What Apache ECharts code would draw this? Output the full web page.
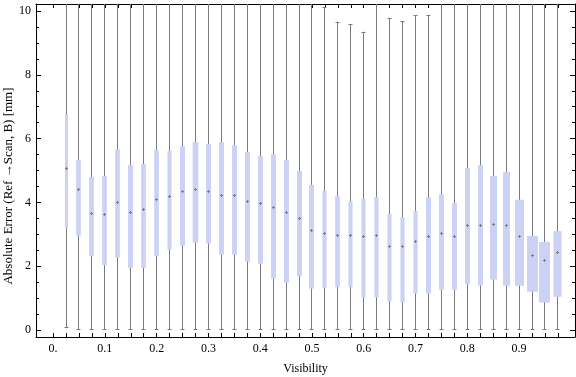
<!DOCTYPE html>
<html>
<head>
<meta charset="utf-8">
<script src="https://cdn.jsdelivr.net/npm/echarts@6.0.0/dist/echarts.min.js"></script>
<style>
html,body{margin:0;padding:0;background:#fff;}
#chart{width:576px;height:377px;}
</style>
</head>
<body>
<div id="chart"></div>
<script>
// ---- data ----
const visibility = [0.025,0.05,0.075,0.1,0.125,0.15,0.175,0.2,0.225,0.25,0.275,0.3,0.325,0.35,0.375,0.4,0.425,0.45,0.475,0.5,0.525,0.55,0.575,0.6,0.625,0.65,0.675,0.7,0.725,0.75,0.775,0.8,0.825,0.85,0.875,0.9,0.925,0.95,0.975];
const whiskerLow = [0.07,0,0,0,0,0,0,0,0,0,0,0,0,0,0,0,0,0,0,0,0,0,0,0,0,0,0,0,0,0,0,0,0,0,0,0,0,0,0];
const quartile1 = [3.18,2.96,2.31,2.03,2.27,1.95,1.95,2.31,2.52,2.64,2.74,2.71,2.36,2.36,2.14,2.08,1.61,1.48,1.68,1.30,1.31,1.34,1.34,1.02,1.02,0.89,0.86,1.14,1.14,1.26,1.26,1.43,1.39,1.58,1.39,1.39,1.20,0.86,1.04];
const medians = [5.09,4.41,3.68,3.63,4.01,3.69,3.79,4.12,4.19,4.36,4.42,4.36,4.23,4.23,4.05,3.97,3.86,3.69,3.51,3.12,3.03,2.98,2.99,2.95,2.97,2.64,2.62,2.79,2.95,3.04,2.94,3.28,3.28,3.31,3.28,2.95,2.36,2.19,2.44];
const quartile3 = [6.76,5.33,4.80,4.83,5.67,5.17,5.20,5.64,5.61,5.77,5.89,5.83,5.89,5.80,5.58,5.45,5.52,5.33,4.98,4.55,4.35,4.20,4.04,4.11,4.17,3.64,3.54,3.73,4.16,4.26,3.98,5.08,5.17,4.83,4.95,4.08,2.95,2.76,3.10];
const whiskerHigh = [12,12,12,12,12,12,12,12,12,12,12,12,12,12,12,12,12,12,12,12,10.12,9.66,9.58,9.35,12,9.77,9.68,9.86,9.86,12,12,12,12,12,12,12,12,12,12];
// relative box widths in visibility units
const boxWidths = [0.006,0.009,0.009,0.009,0.009,0.0095,0.009,0.009,0.008,0.0095,0.011,0.0095,0.0095,0.0095,0.0095,0.0095,0.0095,0.0095,0.0095,0.0095,0.008,0.009,0.008,0.008,0.008,0.008,0.008,0.008,0.0095,0.0095,0.0095,0.0095,0.0095,0.0135,0.0135,0.0174,0.0213,0.0213,0.0155];

const xLabelValues = [0,0.1,0.2,0.3,0.4,0.5,0.6,0.7,0.8,0.9];
const xTickLabels = ["0.","0.1","0.2","0.3","0.4","0.5","0.6","0.7","0.8","0.9"];
const xTickValues = [0,0.025,0.05,0.075,0.1,0.125,0.15,0.175,0.2,0.225,0.25,0.275,0.3,0.325,0.35,0.375,0.4,0.425,0.45,0.475,0.5,0.525,0.55,0.575,0.6,0.625,0.65,0.675,0.7,0.725,0.75,0.775,0.8,0.825,0.85,0.875,0.9,0.925,0.95,0.975];
const yMajorValues = [0,2,4,6,8,10];
const yTickLabels = ["0","2","4","6","8","10"];
const yMinorValues = [0.5,1,1.5,2.5,3,3.5,4.5,5,5.5,6.5,7,7.5,8.5,9,9.5];

const xTitle = "Visibility";
const yTitle = "Absolute Error (Ref \u2192Scan, B) [mm]";

// ---- build ----
const seriesData = visibility.map((v,i)=>[v, whiskerLow[i], quartile1[i], medians[i], quartile3[i], whiskerHigh[i], boxWidths[i]]);

const X_MIN = -0.033, X_MAX = 1.008, Y_MIN = -0.22, Y_MAX = 10.22;
const FONT = '"Liberation Serif", "Times New Roman", serif';
const BOX_FILL = '#cbd2f5';
const WHISKER = '#7a7a7a';

function xFmt(v){
  let best = 0, d = Infinity;
  xLabelValues.forEach((t,i)=>{ const dd=Math.abs(t-v); if(dd<d){d=dd;best=i;} });
  return xTickLabels[best];
}
function yFmt(v){
  let best = 0, d = Infinity;
  yMajorValues.forEach((t,i)=>{ const dd=Math.abs(t-v); if(dd<d){d=dd;best=i;} });
  return yTickLabels[best];
}

function renderItem(params, api){
  const x = api.value(0);
  const lo = api.coord([x, api.value(1)]);
  const q1 = api.coord([x, api.value(2)]);
  const md = api.coord([x, api.value(3)]);
  const q3 = api.coord([x, api.value(4)]);
  const hi = api.coord([x, api.value(5)]);
  const w = api.size([api.value(6), 0])[0];
  const cs = params.coordSys;
  const top = cs.y, bottom = cs.y + cs.height;
  const cx = Math.floor(lo[0]) + 0.5;
  const hiY = Math.max(hi[1], top);
  const loY = Math.min(lo[1], bottom);
  const children = [];
  const ls = {stroke: WHISKER, lineWidth: 1};
  children.push({type:'line', shape:{x1:cx, y1:loY, x2:cx, y2:hiY}, style: ls});
  if (lo[1] <= bottom) children.push({type:'line', shape:{x1:cx-2, y1:Math.round(lo[1])-0.5, x2:cx+2, y2:Math.round(lo[1])-0.5}, style: ls});
  if (hi[1] >= top) children.push({type:'line', shape:{x1:cx-2, y1:Math.round(hi[1])+0.5, x2:cx+2, y2:Math.round(hi[1])+0.5}, style: ls});
  children.push({type:'rect', shape:{x: cx - w/2, y: q3[1], width: w, height: q1[1]-q3[1]}, style:{fill: BOX_FILL}});
  const my = Math.round(md[1]) + 0.5;
  children.push({type:'line', shape:{x1:cx-1.5, y1:my, x2:cx+1.5, y2:my}, style:{stroke:'#7d7d7d', lineWidth:1}});
  children.push({type:'line', shape:{x1:cx, y1:my-1.5, x2:cx, y2:my+1.5}, style:{stroke:'#7d7d7d', lineWidth:1}});
  return {type:'group', children};
}

const axisBlack = {show:true, onZero:false, lineStyle:{color:'#000', width:1}};

const option = {
  animation: false,
  backgroundColor: '#fff',
  grid: {left: 36, right: 1, top: 4, bottom: 40, containLabel: false},
  xAxis: [
    {type:'value', position:'bottom', min:X_MIN, max:X_MAX, axisLine: axisBlack,
     axisTick:{show:true, inside:true, length:4, customValues:xTickValues, lineStyle:{color:'#000'}},
     axisLabel:{show:true, customValues:xLabelValues, formatter:xFmt, color:'#000', fontFamily:FONT, fontSize:12, margin:6},
     splitLine:{show:false}},
    {type:'value', position:'top', min:X_MIN, max:X_MAX, axisLine: axisBlack,
     axisTick:{show:true, inside:true, length:4, customValues:xTickValues, lineStyle:{color:'#000'}},
     axisLabel:{show:false}, splitLine:{show:false}}
  ],
  yAxis: [
    {type:'value', position:'left', min:Y_MIN, max:Y_MAX, axisLine: axisBlack,
     axisTick:{show:true, inside:true, length:5, customValues:yMajorValues, lineStyle:{color:'#000'}},
     axisLabel:{show:true, customValues:yMajorValues, formatter:yFmt, color:'#000', fontFamily:FONT, fontSize:12, margin:5},
     splitLine:{show:false}},
    {type:'value', position:'left', min:Y_MIN, max:Y_MAX, axisLine:{show:false, onZero:false},
     axisTick:{show:true, inside:true, length:3, customValues:yMinorValues, lineStyle:{color:'#000'}},
     axisLabel:{show:false}, splitLine:{show:false}},
    {type:'value', position:'right', min:Y_MIN, max:Y_MAX, axisLine: axisBlack,
     axisTick:{show:true, inside:true, length:5, customValues:yMajorValues, lineStyle:{color:'#000'}},
     axisLabel:{show:false}, splitLine:{show:false}},
    {type:'value', position:'right', min:Y_MIN, max:Y_MAX, axisLine:{show:false, onZero:false},
     axisTick:{show:true, inside:true, length:3, customValues:yMinorValues, lineStyle:{color:'#000'}},
     axisLabel:{show:false}, splitLine:{show:false}}
  ],
  graphic: [
    {type:'text', x:305.5, y:369, style:{text:xTitle, align:'center', verticalAlign:'middle', font:'12px ' + FONT, fill:'#000'}},
    {type:'text', x:9, y:186, rotation:Math.PI/2, style:{text:yTitle, align:'center', verticalAlign:'middle', font:'13px ' + FONT, fill:'#000'}}
  ],
  series: [{
    type:'custom',
    xAxisIndex:0, yAxisIndex:0,
    renderItem: renderItem,
    encode: {x:0, y:[1,2,3,4,5]},
    data: seriesData,
    z: 2
  }]
};

const chart = echarts.init(document.getElementById('chart'), null, {renderer:'canvas'});
chart.setOption(option);
</script>
</body>
</html>
